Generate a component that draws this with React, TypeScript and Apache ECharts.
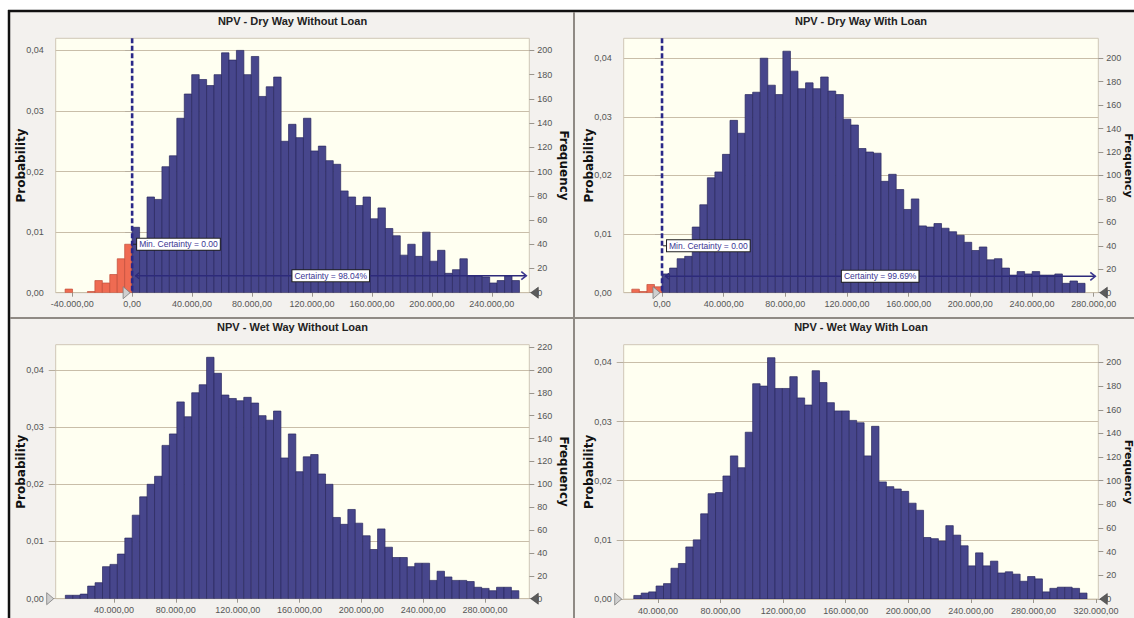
import React, { useEffect, useRef } from "react";
import * as echarts from "echarts";

// ---------- data ----------
const TRIALS = 5000;
const CERTAINTY_MIN = 0;

const PROB_TICKS = [0, 0.01, 0.02, 0.03, 0.04];
const FREQ_TICKS_200 = [0, 20, 40, 60, 80, 100, 120, 140, 160, 180, 200];
const FREQ_TICKS_220 = [0, 20, 40, 60, 80, 100, 120, 140, 160, 180, 200, 220];

// Panel 1: NPV - Dry Way Without Loan
const P1_TITLE = "NPV - Dry Way Without Loan";
const P1_BIN = 4970;
const P1_RED_FREQ = [3, 0, 0, 1, 10, 8, 15, 28, 40]; // bins ending at 0
const P1_BLUE_FREQ = [
  54, 40, 79, 77, 104, 113, 144, 164, 180, 176, 171, 180, 198, 192, 200, 180, 195, 162, 170, 178, 125, 139,
  128, 144, 117, 121, 109, 106, 84, 79, 72, 79, 61, 70, 53, 47, 31, 40, 30, 50, 26, 35, 16, 19, 28, 14, 14, 13,
  8, 10, 14, 10,
];
const P1_X_TICKS = [-40000, 0, 40000, 80000, 120000, 160000, 200000, 240000];
const P1_X_RANGE = [-51000, 265000];
const P1_FREQ_MAX = 210;
const P1_CERTAINTY = "Certainty = 98.04%";

// Panel 2: NPV - Dry Way With Loan
const P2_TITLE = "NPV - Dry Way With Loan";
const P2_BIN = 4900;
const P2_RED_FREQ = [3, 1, 7, 5];
const P2_BLUE_FREQ = [
  16, 21, 29, 31, 56, 75, 98, 103, 118, 147, 136, 169, 171, 200, 177, 169, 206, 189, 174, 179, 174, 184, 172,
  169, 148, 143, 123, 120, 119, 95, 101, 88, 71, 80, 57, 56, 59, 55, 52, 49, 43, 36, 39, 28, 29, 21, 15, 18, 16,
  18, 15, 15, 16, 8, 10, 8,
];
const P2_X_TICKS = [0, 40000, 80000, 120000, 160000, 200000, 240000, 280000];
const P2_X_RANGE = [-24860, 283000];
const P2_FREQ_MAX = 217;
const P2_CERTAINTY = "Certainty = 99.69%";

// Panel 3: NPV - Wet Way Without Loan
const P3_TITLE = "NPV - Wet Way Without Loan";
const P3_START = 8500;
const P3_BIN = 4810;
const P3_FREQ = [
  3, 3, 4, 11, 14, 28, 30, 39, 53, 73, 89, 100, 107, 134, 144, 172, 159, 180, 187, 211, 197, 178, 175, 173, 176,
  171, 160, 156, 164, 123, 144, 111, 124, 126, 109, 100, 71, 65, 78, 66, 55, 43, 61, 45, 36, 36, 28, 31, 31, 16,
  24, 19, 16, 16, 15, 10, 9, 7, 10, 10, 7,
];
const P3_X_TICKS = [40000, 80000, 120000, 160000, 200000, 240000, 280000];
const P3_X_RANGE = [2264, 308680];
const P3_FREQ_MAX = 222;

// Panel 4: NPV - Wet Way With Loan
const P4_TITLE = "NPV - Wet Way With Loan";
const P4_START = 24500;
const P4_BIN = 4750;
const P4_FREQ = [
  3, 5, 6, 11, 13, 26, 30, 44, 50, 72, 89, 90, 104, 121, 111, 141, 182, 180, 204, 178, 178, 188, 170, 164, 193,
  183, 166, 159, 159, 151, 149, 121, 146, 99, 95, 93, 91, 81, 75, 52, 51, 49, 62, 54, 45, 28, 39, 28, 32, 22, 23,
  21, 15, 19, 17, 6, 9, 10, 10, 9, 5,
];
const P4_X_TICKS = [40000, 80000, 120000, 160000, 200000, 240000, 280000, 320000];
const P4_X_RANGE = [18050, 321470];
const P4_FREQ_MAX = 215;

// ---------- styling / layout ----------
const BLUE = "#47468c";
const BLUE_EDGE = "#29285f";
const RED = "#ef6b52";
const RED_EDGE = "#c24e3a";
const PANEL_BG = "#f3f1ee";
const PLOT_BG = "#fffff1";
const GRID_LINE = "#c9bea9";
const FONT = "Liberation Sans";

type Bin = [number, number, number, number];
function bins(start: number, width: number, freqs: number[], red: boolean): Bin[] {
  return freqs.map((f, i) => [start + i * width, start + (i + 1) * width, f, red ? 1 : 0]);
}

const fmtMoney = (v: number) => {
  const s = Math.round(Math.abs(v))
    .toString()
    .replace(/\B(?=(\d{3})+(?!\d))/g, ".");
  return (v < 0 ? "-" : "") + s + ",00";
};
const fmtProb = (v: number) => {
  const ok = PROB_TICKS.some((t) => Math.abs(t - v) < 1e-9);
  return ok ? v.toFixed(2).replace(".", ",") : "";
};
const fmtFreq = (v: number) => (Math.abs(v % 20) < 1e-9 ? String(Math.round(v)) : "");

interface Panel {
  title: string;
  grid: { left: number; top: number; width: number; height: number };
  bars: Bin[];
  xTicks: number[];
  xRange: number[];
  freqMax: number;
  freqTicks: number[];
  certainty: string | null;
  freqNameGap: number;
  freqNameSize: number;
}

const PANELS: Panel[] = [
  {
    title: P1_TITLE,
    grid: { left: 55.7, top: 38.3, width: 473.6, height: 254.4 },
    bars: [
      ...bins(CERTAINTY_MIN - P1_RED_FREQ.length * P1_BIN, P1_BIN, P1_RED_FREQ, true),
      ...bins(CERTAINTY_MIN, P1_BIN, P1_BLUE_FREQ, false),
    ],
    xTicks: P1_X_TICKS,
    xRange: P1_X_RANGE,
    freqMax: P1_FREQ_MAX,
    freqTicks: FREQ_TICKS_200,
    certainty: P1_CERTAINTY,
    freqNameGap: 29,
    freqNameSize: 12,
  },
  {
    title: P2_TITLE,
    grid: { left: 623.7, top: 38.3, width: 474.6, height: 254.4 },
    bars: [
      ...bins(CERTAINTY_MIN - P2_RED_FREQ.length * P2_BIN, P2_BIN, P2_RED_FREQ, true),
      ...bins(CERTAINTY_MIN, P2_BIN, P2_BLUE_FREQ, false),
    ],
    xTicks: P2_X_TICKS,
    xRange: P2_X_RANGE,
    freqMax: P2_FREQ_MAX,
    freqTicks: FREQ_TICKS_200,
    certainty: P2_CERTAINTY,
    freqNameGap: 24.5,
    freqNameSize: 11,
  },
  {
    title: P3_TITLE,
    grid: { left: 55.7, top: 344.7, width: 473.6, height: 254.0 },
    bars: bins(P3_START, P3_BIN, P3_FREQ, false),
    xTicks: P3_X_TICKS,
    xRange: P3_X_RANGE,
    freqMax: P3_FREQ_MAX,
    freqTicks: FREQ_TICKS_220,
    certainty: null,
    freqNameGap: 29,
    freqNameSize: 12,
  },
  {
    title: P4_TITLE,
    grid: { left: 623.7, top: 344.7, width: 474.6, height: 254.3 },
    bars: bins(P4_START, P4_BIN, P4_FREQ, false),
    xTicks: P4_X_TICKS,
    xRange: P4_X_RANGE,
    freqMax: P4_FREQ_MAX,
    freqTicks: FREQ_TICKS_200,
    certainty: null,
    freqNameGap: 24.5,
    freqNameSize: 11,
  },
];

function buildOption() {
  const grids: any[] = [];
  const xAxes: any[] = [];
  const yAxes: any[] = [];
  const series: any[] = [];
  const graphics: any[] = [];

  PANELS.forEach((p, i) => {
    grids.push({
      ...p.grid,
      show: true,
      backgroundColor: PLOT_BG,
      borderColor: "#cfc7b7",
      borderWidth: 1,
      containLabel: false,
      outerBoundsMode: "none",
    });
    xAxes.push({
      gridIndex: i,
      type: "value",
      min: p.xRange[0],
      max: p.xRange[1],
      axisLine: { show: false },
      axisTick: { show: true, customValues: p.xTicks, length: 4, lineStyle: { color: "#9a958d" } },
      axisLabel: {
        customValues: p.xTicks,
        formatter: fmtMoney,
        fontSize: 9,
        color: "#555",
        fontFamily: FONT,
        margin: 7,
      },
      splitLine: { show: false },
    });
    yAxes.push({
      gridIndex: i,
      type: "value",
      position: "left",
      min: 0,
      max: p.freqMax / TRIALS,
      interval: 0.01,
      axisLine: { show: false },
      axisTick: { show: true, customValues: PROB_TICKS, length: 7, lineStyle: { color: "#b8af9f" } },
      axisLabel: {
        customValues: PROB_TICKS,
        formatter: fmtProb,
        fontSize: 9,
        color: "#555",
        fontFamily: FONT,
        margin: 12,
      },
      splitLine: { show: true, lineStyle: { color: GRID_LINE, width: 1 } },
      name: "Probability",
      nameLocation: "middle",
      nameGap: 29,
      nameMoveOverlap: false,
      nameTextStyle: { fontFamily: "DejaVu Sans", fontWeight: "bold", fontSize: 12, color: "#111" },
    });
    yAxes.push({
      gridIndex: i,
      type: "value",
      position: "right",
      min: 0,
      max: p.freqMax,
      interval: 20,
      axisLine: { show: false },
      axisTick: { show: true, customValues: p.freqTicks, length: 5, lineStyle: { color: "#9a958d" } },
      axisLabel: {
        customValues: p.freqTicks,
        formatter: fmtFreq,
        fontSize: 9,
        color: "#555",
        fontFamily: FONT,
        margin: 8,
      },
      splitLine: { show: false },
      name: "Frequency",
      nameLocation: "middle",
      nameRotate: -90,
      nameGap: p.freqNameGap,
      nameMoveOverlap: false,
      nameTextStyle: { fontFamily: "DejaVu Sans", fontWeight: "bold", fontSize: p.freqNameSize, color: "#111" },
    });

    series.push({
      type: "custom",
      name: p.title,
      xAxisIndex: i,
      yAxisIndex: 2 * i + 1,
      data: p.bars,
      encode: { x: [0, 1], y: 2 },
      clip: true,
      silent: true,
      z: 2,
      renderItem: (_params: any, api: any) => {
        const f = api.value(2);
        if (!f) return null;
        const s = api.coord([api.value(0), f]);
        const e = api.coord([api.value(1), 0]);
        const red = api.value(3) === 1;
        return {
          type: "rect",
          shape: { x: s[0], y: s[1], width: e[0] - s[0], height: e[1] - s[1] },
          style: { fill: red ? RED : BLUE, stroke: red ? RED_EDGE : BLUE_EDGE, lineWidth: 0.7 },
        };
      },
    });

    // overlay: certainty markers and range grabbers
    series.push({
      type: "custom",
      name: p.title + " markers",
      xAxisIndex: i,
      yAxisIndex: 2 * i + 1,
      data: [[CERTAINTY_MIN, 40, 14]],
      encode: { x: 0, y: 1 },
      clip: false,
      silent: true,
      z: 6,
      renderItem: (params: any, api: any) => {
        const cs = params.coordSys;
        const left = cs.x;
        const top = cs.y;
        const right = cs.x + cs.width;
        const bottom = cs.y + cs.height;
        const children: any[] = [];
        const hx = p.certainty ? api.coord([api.value(0), 0])[0] : left;
        if (p.certainty) {
          const yArrow = api.coord([api.value(0), api.value(2)])[1];
          const yLabel = api.coord([api.value(0), api.value(1)])[1];
          children.push({
            type: "line",
            shape: { x1: hx, y1: top, x2: hx, y2: bottom },
            style: { stroke: "#2a2888", lineWidth: 2.6, lineDash: [5, 2.5] },
          });
          children.push({
            type: "line",
            shape: { x1: hx + 3, y1: yArrow, x2: right - 3, y2: yArrow },
            style: { stroke: "#2d2a7a", lineWidth: 1.4 },
          });
          children.push({
            type: "polyline",
            shape: { points: [[hx + 7, yArrow - 3], [hx + 3.5, yArrow], [hx + 7, yArrow + 3]] },
            style: { stroke: "#2d2a7a", lineWidth: 1.3, fill: "none" },
          });
          children.push({
            type: "polyline",
            shape: { points: [[right - 8, yArrow - 4], [right - 3, yArrow], [right - 8, yArrow + 4]] },
            style: { stroke: "#3b3790", lineWidth: 1.6, fill: "none" },
          });
          children.push({
            type: "text",
            x: (hx + right) / 2,
            y: yArrow,
            style: {
              text: p.certainty,
              fill: "#3a3592",
              font: `8.5px "${FONT}"`,
              align: "center",
              verticalAlign: "middle",
              backgroundColor: "#ffffff",
              borderColor: "#222",
              borderWidth: 1,
              padding: [1, 2, 1, 2],
            },
          });
          children.push({
            type: "line",
            shape: { x1: hx + 1, y1: yLabel, x2: hx + 5, y2: yLabel },
            style: { stroke: "#222", lineWidth: 1 },
          });
          children.push({
            type: "text",
            x: hx + 5,
            y: yLabel,
            style: {
              text: "Min. Certainty = " + api.value(0).toFixed(2),
              fill: "#3a3592",
              font: `8.5px "${FONT}"`,
              align: "left",
              verticalAlign: "middle",
              backgroundColor: "#ffffff",
              borderColor: "#222",
              borderWidth: 1,
              padding: [1, 2, 1, 2],
            },
          });
        }
        // left (light) grabber pointing right
        children.push({
          type: "polygon",
          shape: { points: [[hx - 2, bottom], [hx - 9, bottom - 6], [hx - 9, bottom + 6]] },
          style: { fill: "#cfcfcf", stroke: "#7d7d7d", lineWidth: 0.8 },
        });
        // right (dark) grabber pointing left
        children.push({
          type: "polygon",
          shape: { points: [[right + 1.5, bottom], [right + 9, bottom - 5.5], [right + 9, bottom + 5.5]] },
          style: { fill: "#5c5c5c", stroke: "#3a3a3a", lineWidth: 0.6 },
        });
        return { type: "group", children };
      },
    });

    graphics.push({
      type: "text",
      x: p.grid.left + p.grid.width / 2,
      y: p.grid.top - 17.5,
      style: {
        text: p.title,
        font: `bold 11px "${FONT}"`,
        fill: "#222",
        align: "center",
        verticalAlign: "middle",
      },
    });
  });

  // frame: white outer margin, black border, panel separators
  graphics.push(
    { type: "rect", shape: { x: 0, y: 0, width: 1134, height: 10 }, style: { fill: "#ffffff" } },
    { type: "rect", shape: { x: 0, y: 0, width: 8, height: 618 }, style: { fill: "#ffffff" } },
    { type: "line", shape: { x1: 8, y1: 11, x2: 1134, y2: 11 }, style: { stroke: "#111", lineWidth: 2.5 } },
    { type: "line", shape: { x1: 9, y1: 10, x2: 9, y2: 618 }, style: { stroke: "#111", lineWidth: 2.5 } },
    { type: "line", shape: { x1: 574, y1: 12, x2: 574, y2: 618 }, style: { stroke: "#8f8a84", lineWidth: 2 } },
    { type: "line", shape: { x1: 10, y1: 318, x2: 1134, y2: 318 }, style: { stroke: "#8f8a84", lineWidth: 2 } }
  );

  return {
    animation: false,
    backgroundColor: PANEL_BG,
    textStyle: { fontFamily: FONT },
    grid: grids,
    xAxis: xAxes,
    yAxis: yAxes,
    series,
    graphic: { elements: graphics },
  };
}

export default function App() {
  const ref = useRef<HTMLDivElement | null>(null);
  useEffect(() => {
    if (!ref.current) return;
    const chart = echarts.init(ref.current, undefined, { renderer: "svg" });
    chart.setOption(buildOption() as any);
    return () => chart.dispose();
  }, []);
  return <div ref={ref} style={{ position: "fixed", left: 0, top: 0, width: 1134, height: 618 }} />;
}
